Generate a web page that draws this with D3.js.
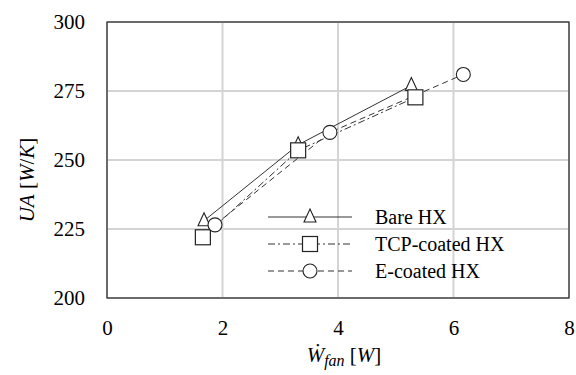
<!DOCTYPE html>
<html>
<head>
<meta charset="utf-8">
<script src="https://cdn.jsdelivr.net/npm/d3@7"></script>
<style>
  body { margin: 0; }
  svg text, svg tspan, .tick text { font-family: "Liberation Serif", "Times New Roman", serif !important; }
</style>
</head>
<body>
<script>
// data
var xTicks = [0, 2, 4, 6, 8];
var yTicks = [200, 225, 250, 275, 300];

var bareX = [1.68, 3.31, 5.27];
var bareY = [228, 255.5, 277];

var tcpX = [1.66, 3.31, 5.34];
var tcpY = [222, 253.5, 272.7];

var ecoatX = [1.87, 3.86, 6.17];
var ecoatY = [226.5, 260, 281];

var seriesNames = ["Bare HX", "TCP-coated HX", "E-coated HX"];

var series = [
    { name: seriesNames[0], xs: bareX, ys: bareY, dash: null, marker: "triangle" },
    { name: seriesNames[1], xs: tcpX, ys: tcpY, dash: "7,3,2,3", marker: "square" },
    { name: seriesNames[2], xs: ecoatX, ys: ecoatY, dash: "6,4", marker: "circle" }
];

var margin = { top: 22, right: 7, bottom: 77, left: 107 },
    width = 576 - margin.left - margin.right,
    height = 375 - margin.top - margin.bottom;

var svg = d3.select("body").append("svg")
    .attr("width", 576)
    .attr("height", 375)
    .append("g")
    .attr("transform", "translate(" + margin.left + "," + margin.top + ")");

var x = d3.scaleLinear().domain([0, 8]).range([0, width]);
var y = d3.scaleLinear().domain([200, 300]).range([height, 0]);

// grid
svg.selectAll(".gx")
    .data(xTicks)
    .enter().append("line")
    .attr("x1", d => x(d)).attr("x2", d => x(d))
    .attr("y1", 0).attr("y2", height)
    .attr("stroke", "#d4d4d4").attr("stroke-width", 2);

svg.selectAll(".gy")
    .data(yTicks)
    .enter().append("line")
    .attr("x1", 0).attr("x2", width)
    .attr("y1", d => y(d)).attr("y2", d => y(d))
    .attr("stroke", "#d4d4d4").attr("stroke-width", 2);

// frame
svg.append("rect")
    .attr("width", width).attr("height", height)
    .attr("fill", "none").attr("stroke", "#333").attr("stroke-width", 1.3);

// axes
var xAxis = svg.append("g")
    .attr("transform", "translate(0," + height + ")")
    .call(d3.axisBottom(x).tickValues(xTicks).tickSize(0).tickPadding(22));
var yAxis = svg.append("g")
    .call(d3.axisLeft(y).tickValues(yTicks).tickSize(0).tickPadding(22));
[xAxis, yAxis].forEach(a => {
    a.attr("font-family", "Liberation Serif").attr("font-size", 21);
    a.select(".domain").remove();
    a.selectAll("text").attr("fill", "#000");
});

// lines
var line = d3.line().x(d => x(d[0])).y(d => y(d[1]));

function drawMarker(g, type, cx, cy) {
    if (type == "triangle") {
        g.append("path")
            .attr("d", "M" + cx + "," + (cy - 8) + "L" + (cx + 6) + "," + (cy + 5) + "L" + (cx - 6) + "," + (cy + 5) + "Z")
            .attr("fill", "#fff").attr("stroke", "#222").attr("stroke-width", 1.1);
    } else if (type == "square") {
        g.append("rect")
            .attr("x", cx - 7.5).attr("y", cy - 7.5)
            .attr("width", 15).attr("height", 15)
            .attr("fill", "#fff").attr("stroke", "#222").attr("stroke-width", 1.2);
    } else {
        g.append("circle")
            .attr("cx", cx).attr("cy", cy).attr("r", 7)
            .attr("fill", "#fff").attr("stroke", "#222").attr("stroke-width", 1.1);
    }
}

series.forEach(s => {
    var pts = s.xs.map((v, i) => [v, s.ys[i]]);
    svg.append("path")
        .datum(pts)
        .attr("d", line)
        .attr("fill", "none")
        .attr("stroke", "#333")
        .attr("stroke-width", 1)
        .attr("stroke-dasharray", s.dash);
});

series.forEach(s => {
    var g = svg.append("g");
    s.xs.forEach((v, i) => drawMarker(g, s.marker, x(v), y(s.ys[i])));
});

// legend
var legend = svg.append("g").attr("transform", "translate(161,195)");
series.forEach((s, i) => {
    var ly = i * 27;
    legend.append("line")
        .attr("x1", 0).attr("x2", 84)
        .attr("y1", ly).attr("y2", ly)
        .attr("stroke", "#333").attr("stroke-width", 1)
        .attr("stroke-dasharray", s.dash);
    drawMarker(legend, s.marker, 42, ly);
    legend.append("text")
        .attr("x", 107).attr("y", ly + 7)
        .attr("font-family", "Liberation Serif")
        .attr("font-size", 20)
        .attr("fill", "#000")
        .text(s.name);
});

// y axis label
var yl = svg.append("text")
    .attr("transform", "translate(-73," + (height / 2 + 20) + ") rotate(-90)")
    .attr("text-anchor", "middle")
    .attr("font-family", "Liberation Serif")
    .attr("font-size", 21);
yl.append("tspan").attr("font-style", "italic").text("UA");
yl.append("tspan").text(" [");
yl.append("tspan").attr("font-style", "italic").text("W");
yl.append("tspan").text("/");
yl.append("tspan").attr("font-style", "italic").text("K");
yl.append("tspan").text("]");

// x axis label
var xl = svg.append("text")
    .attr("transform", "translate(" + (width / 2 + 6) + "," + (height + 64) + ")")
    .attr("text-anchor", "middle")
    .attr("font-family", "Liberation Serif")
    .attr("font-size", 21);
xl.append("tspan").attr("font-style", "italic").text("W\u0307");
xl.append("tspan").attr("font-style", "italic").attr("font-size", 16).attr("dy", 4).text("fan");
xl.append("tspan").attr("dy", -4).text(" [");
xl.append("tspan").attr("font-style", "italic").text("W");
xl.append("tspan").text("]");
</script>
</body>
</html>
